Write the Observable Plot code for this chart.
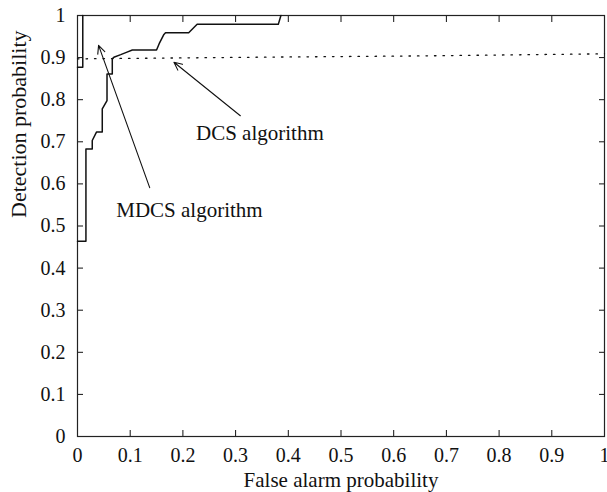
<!DOCTYPE html>
<html><head><meta charset="utf-8">
<script src="https://cdn.jsdelivr.net/npm/d3@7"></script>
<script src="https://cdn.jsdelivr.net/npm/@observablehq/plot@0.6"></script>
<style>
body{margin:0;background:#fff}
#chart svg, #chart svg text { font-family: 'Liberation Serif', 'DejaVu Serif', serif !important; }
</style>
</head><body><div id="chart"></div>
<script>
const xTicks = [0, 0.1, 0.2, 0.3, 0.4, 0.5, 0.6, 0.7, 0.8, 0.9, 1];
const yTicks = [0, 0.1, 0.2, 0.3, 0.4, 0.5, 0.6, 0.7, 0.8, 0.9, 1];
const xTitle = "False alarm probability";
const yTitle = "Detection probability";

// MDCS algorithm (solid staircase)
const mdcsX = [0, 0.016, 0.016, 0.028, 0.028, 0.036, 0.047, 0.047, 0.056, 0.056, 0.066, 0.066, 0.069, 0.082, 0.094, 0.104, 0.150, 0.155, 0.164, 0.167, 0.211, 0.227, 0.381, 0.386];
const mdcsY = [0.464, 0.464, 0.683, 0.683, 0.703, 0.723, 0.723, 0.778, 0.798, 0.861, 0.861, 0.897, 0.901, 0.907, 0.913, 0.918, 0.918, 0.933, 0.955, 0.959, 0.959, 0.979, 0.979, 1.0];
// short solid segment near the left axis
const edgeX = [0, 0.010, 0.010];
const edgeY = [0.877, 0.877, 1.0];
// DCS algorithm (dotted)
const dcsX = [0, 0.35, 0.65, 1];
const dcsY = [0.897, 0.901, 0.904, 0.909];

// annotations
const noteText = ["MDCS algorithm", "DCS algorithm"];
const noteX = [0.2125, 0.346];
const noteY = [0.537, 0.72];
const tipX = [0.040, 0.183];
const tipY = [0.929, 0.889];
const tailX = [0.137, 0.309];
const tailY = [0.591, 0.762];

const toPts = (xs, ys) => xs.map((x, i) => ({x, y: ys[i]}));
const notes = noteText.map((t, i) => ({t, x: noteX[i], y: noteY[i], x1: tailX[i], y1: tailY[i], x2: tipX[i], y2: tipY[i]}));

const font = "'Liberation Serif', 'DejaVu Serif', serif";
const fmt = d3.format("~g");
const chart = Plot.plot({
  width: 607,
  height: 492,
  marginLeft: 77,
  marginRight: 3,
  marginTop: 15,
  marginBottom: 56,
  style: {fontFamily: font, fontSize: "20px", color: "#111", background: "#fff"},
  x: {domain: [0, 1]},
  y: {domain: [0, 1]},
  marks: [
    Plot.axisX({anchor: "bottom", ticks: xTicks, tickSize: -6, tickFormat: () => "", label: null, strokeWidth: 1}),
    Plot.axisX({anchor: "top", ticks: xTicks, tickSize: -6, tickFormat: () => "", label: null, strokeWidth: 1}),
    Plot.axisY({anchor: "left", ticks: yTicks, tickSize: -6, tickFormat: () => "", label: null, strokeWidth: 1}),
    Plot.axisY({anchor: "right", ticks: yTicks, tickSize: -6, tickFormat: () => "", label: null, strokeWidth: 1}),
    Plot.axisX({anchor: "bottom", ticks: xTicks, tickSize: 0, tickPadding: 11, tickFormat: fmt, label: null, fontSize: 20, fontFamily: font}),
    Plot.axisY({anchor: "left", ticks: yTicks, tickSize: 0, tickPadding: 12, tickFormat: fmt, label: null, fontSize: 20, fontFamily: font}),
    Plot.frame({stroke: "#222", strokeWidth: 1.2}),
    Plot.line(toPts(dcsX, dcsY), {x: "x", y: "y", stroke: "#111", strokeWidth: 1.3, strokeDasharray: "1.5,7"}),
    Plot.line(toPts(edgeX, edgeY), {x: "x", y: "y", stroke: "#111", strokeWidth: 1.5}),
    Plot.line(toPts(mdcsX, mdcsY), {x: "x", y: "y", stroke: "#111", strokeWidth: 1.5}),
    Plot.arrow(notes, {x1: "x1", y1: "y1", x2: "x2", y2: "y2", stroke: "#111", strokeWidth: 1.1, headLength: 12, headAngle: 50}),
    Plot.text(notes, {x: "x", y: "y", text: "t", fontSize: 21, fontFamily: font, fill: "#111"}),
    Plot.text([xTitle], {frameAnchor: "bottom", dy: 50, fontSize: 21, fontFamily: font, fill: "#111"}),
    Plot.text([yTitle], {frameAnchor: "left", rotate: -90, dx: -59, dy: -8, fontSize: 22, fontFamily: font, fill: "#111"})
  ]
});
document.getElementById("chart").appendChild(chart);
</script>
</body></html>
